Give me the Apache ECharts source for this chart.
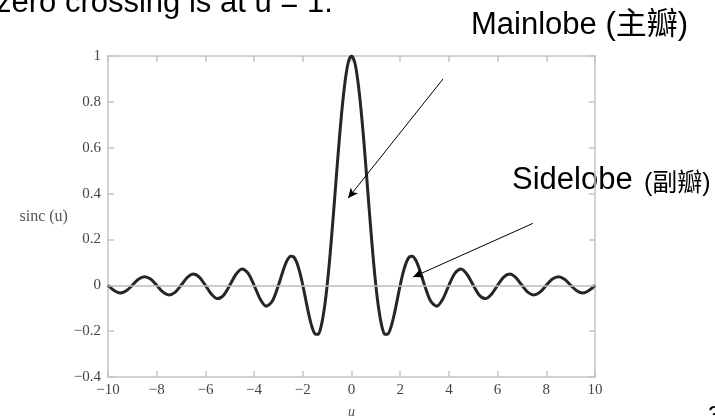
<!DOCTYPE html>
<html>
<head>
    <meta charset="UTF-8">
    <title>sinc</title>
    <script src="https://cdn.jsdelivr.net/npm/echarts@6/dist/echarts.min.js"></script>
    <style>
        body, html {
            margin: 0;
            padding: 0;
            background: #fff;
        }
        #chart {
            width: 715px;
            height: 417px;
        }
    </style>
</head>
<body>
<div id="chart"></div>
<script>
    // u values (finer steps around the main lobe)
    const uValues = [
        -10, -9.75, -9.5, -9.25, -9, -8.75, -8.5, -8.25, -8, -7.75, -7.5, -7.25, -7, -6.75, -6.5, -6.25,
        -6, -5.75, -5.5, -5.25, -5, -4.75, -4.5, -4.25, -4, -3.75, -3.5, -3.25,
        -3, -2.875, -2.75, -2.625, -2.5, -2.375, -2.25, -2.125, -2, -1.875, -1.75, -1.625, -1.5, -1.375, -1.25, -1.125,
        -1, -0.875, -0.75, -0.625, -0.5, -0.375, -0.25, -0.125, 0, 0.125, 0.25, 0.375, 0.5, 0.625, 0.75, 0.875,
        1, 1.125, 1.25, 1.375, 1.5, 1.625, 1.75, 1.875, 2, 2.125, 2.25, 2.375, 2.5, 2.625, 2.75, 2.875, 3,
        3.25, 3.5, 3.75, 4, 4.25, 4.5, 4.75, 5, 5.25, 5.5, 5.75,
        6, 6.25, 6.5, 6.75, 7, 7.25, 7.5, 7.75, 8, 8.25, 8.5, 8.75, 9, 9.25, 9.5, 9.75, 10
    ];
    // sinc(u)
    const sincValues = [
        0, -0.023, -0.034, -0.024, 0, 0.026, 0.037, 0.027, 0, -0.029, -0.042, -0.031, 0, 0.033, 0.049, 0.036,
        0, -0.039, -0.058, -0.043, 0, 0.047, 0.071, 0.053, 0, -0.060, -0.091, -0.069,
        0, 0.042, 0.082, 0.112, 0.127, 0.124, 0.100, 0.057, 0, -0.065, -0.129, -0.181, -0.212, -0.214, -0.180, -0.108,
        0, 0.139, 0.300, 0.471, 0.637, 0.784, 0.900, 0.975, 1, 0.975, 0.900, 0.784, 0.637, 0.471, 0.300, 0.139,
        0, -0.108, -0.180, -0.214, -0.212, -0.181, -0.129, -0.065, 0, 0.057, 0.100, 0.124, 0.127, 0.112, 0.082, 0.042, 0,
        -0.069, -0.091, -0.060, 0, 0.053, 0.071, 0.047, 0, -0.043, -0.058, -0.039,
        0, 0.036, 0.049, 0.033, 0, -0.031, -0.042, -0.029, 0, 0.027, 0.037, 0.026, 0, -0.024, -0.034, -0.023, 0
    ];

    // arrows in data coordinates: [from, to]
    const mainlobeArrow = [[3.76, 0.90], [-0.14, 0.38]];
    const sidelobeArrow = [[7.45, 0.27], [2.53, 0.036]];

    const minus = s => String(s).replace('-', '\u2212');
    const serif = '"Liberation Serif", "Times New Roman", serif';
    const sans = '"Liberation Sans", Arial, "Noto Sans CJK TC", sans-serif';
    const frameColor = '#c4c4c4';

    const chart = echarts.init(document.getElementById('chart'));

    const axisCommon = {
        type: 'value',
        axisLine: { show: true, onZero: false, lineStyle: { color: frameColor, width: 1.5 } },
        axisTick: { show: true, inside: true, length: 6, lineStyle: { color: frameColor, width: 1.5 } },
        splitLine: { show: false }
    };

    const option = {
        animation: false,
        grid: { left: 108, right: 120, top: 56, bottom: 40, outerBoundsMode: 'none', containLabel: false },
        xAxis: [
            Object.assign({}, axisCommon, {
                min: -10, max: 10, interval: 2,
                position: 'bottom',
                axisLabel: { color: '#444', fontFamily: serif, fontSize: 15, margin: 6, formatter: minus },
                name: 'u',
                nameLocation: 'middle',
                nameGap: 28,
                nameTextStyle: { color: '#555', fontFamily: serif, fontSize: 14, fontStyle: 'italic' }
            }),
            Object.assign({}, axisCommon, {
                min: -10, max: 10, interval: 2,
                position: 'top',
                axisLabel: { show: false }
            })
        ],
        yAxis: [
            Object.assign({}, axisCommon, {
                min: -0.4, max: 1, interval: 0.2,
                position: 'left',
                axisLabel: {
                    color: '#444', fontFamily: serif, fontSize: 15, margin: 7,
                    formatter: v => minus(Math.round(v * 10) / 10)
                },
                name: 'sinc (u)',
                nameLocation: 'middle',
                nameRotate: 0,
                nameGap: 40,
                nameTextStyle: { color: '#555', fontFamily: serif, fontSize: 16, align: 'right', padding: [0, 0, 5, 0] }
            }),
            Object.assign({}, axisCommon, {
                min: -0.4, max: 1, interval: 0.2,
                position: 'right',
                axisLabel: { show: false }
            })
        ],
        series: [
            {
                type: 'line',
                data: uValues.map((u, i) => [u, sincValues[i]]),
                smooth: 0.3,
                showSymbol: false,
                lineStyle: { color: '#262626', width: 3 },
                markLine: {
                    silent: true,
                    symbol: ['none', 'none'],
                    label: { show: false },
                    lineStyle: { color: '#bdbdbd', type: 'solid', width: 1.5 },
                    data: [{ yAxis: 0 }]
                }
            },
            {
                type: 'line',
                data: [],
                markLine: {
                    silent: true,
                    symbol: ['none', 'arrow'],
                    symbolSize: [7, 10],
                    label: { show: false },
                    lineStyle: { color: '#000', type: 'solid', width: 1 },
                    data: [
                        [{ coord: mainlobeArrow[0] }, { coord: mainlobeArrow[1] }],
                        [{ coord: sidelobeArrow[0] }, { coord: sidelobeArrow[1] }]
                    ]
                }
            }
        ],
        graphic: [
            {
                type: 'text', left: -4, top: -12,
                style: { text: 'zero crossing is at u = 1.', fill: '#000', font: '31px ' + sans }
            },
            {
                type: 'text', left: 471, top: 10,
                style: { text: 'Mainlobe (主瓣)', fill: '#000', font: '31px ' + sans }
            },
            {
                type: 'text', left: 512, top: 165,
                style: { text: 'Sidelobe', fill: '#000', font: '31px ' + sans }
            },
            {
                type: 'text', left: 644, top: 172,
                style: { text: '(副瓣)', fill: '#000', font: '25px ' + sans }
            },
            {
                type: 'text', left: 708, top: 404,
                style: { text: '3', fill: '#000', font: '24px ' + sans }
            }
        ]
    };
    chart.setOption(option);
</script>
</body>
</html>
